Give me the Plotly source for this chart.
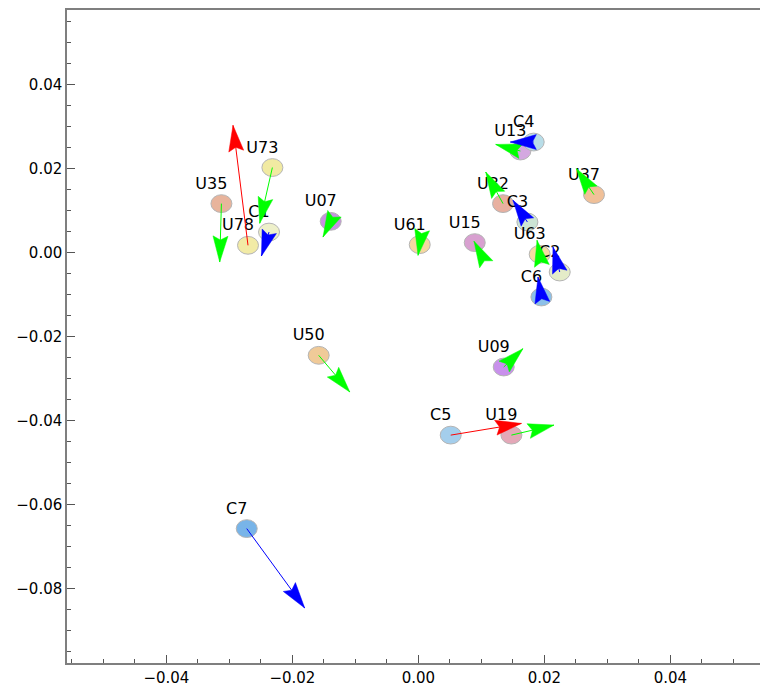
import plotly.graph_objects as go
import numpy as np

# ---------------- data ----------------
labels = ["U73", "U35", "U78", "C1", "U07", "U61", "U15", "U13", "C4", "U32",
          "C3", "U63", "C2", "C6", "U37", "U50", "C7", "U09", "C5", "U19"]
x_start = [-0.02318, -0.03127, -0.02705, -0.02371, -0.01392, 0.00021, 0.00894, 0.01619, 0.01830, 0.01343,
           0.01730, 0.01925, 0.02243, 0.01952, 0.02787, -0.01583, -0.02725, 0.01354, 0.00513, 0.01476]
y_start = [0.02026, 0.01167, 0.00174, 0.00490, 0.00745, 0.00190, 0.00238, 0.02419, 0.02633, 0.01167,
           0.00729, -0.00040, -0.00462, -0.01057, 0.01381, -0.02445, -0.06571, -0.02724, -0.04345, -0.04345]
x_end = [-0.02519, -0.03154, -0.02943, -0.02492, -0.01514, -0.00006, 0.00883, 0.01227, 0.01459, 0.01068,
         0.01502, 0.01883, 0.02136, 0.01898, 0.02508, -0.01089, -0.01805, 0.01660, 0.01635, 0.02152]
y_end = [0.00698, -0.00224, 0.03031, -0.00081, 0.00371, -0.00064, 0.00269, 0.02576, 0.02633, 0.01919,
         0.01245, 0.00293, 0.00133, -0.00581, 0.02000, -0.03319, -0.08462, -0.02286, -0.04067, -0.04107]

x_ticks = [-0.04, -0.02, 0.00, 0.02, 0.04]
y_ticks = [-0.08, -0.06, -0.04, -0.02, 0.00, 0.02, 0.04]

# ---------------- style ----------------
point_color = {
    "U73": "#F1EAA2", "U35": "#E8B49C", "U78": "#F2EBA6", "C1": "#EEF0CA",
    "U07": "#C890E0", "U61": "#F5D8A0", "U15": "#D8A0D0", "U13": "#D4A8E0",
    "C4": "#B8DDE8", "U32": "#E8B0A0", "C3": "#CCE4D4", "U63": "#F5DCA0",
    "C2": "#E4ECC8", "C6": "#8CC0E8", "U37": "#F0C098", "U50": "#F0CA98",
    "C7": "#78B4E8", "U09": "#C890EB", "C5": "#A4CEEC", "U19": "#E4A8B8",
}
arrow_color = {lab: ("#0000FF" if lab.startswith("C") else "#00FF00") for lab in labels}
arrow_color["U78"] = "#FF0000"
arrow_color["C5"] = "#FF0000"

FONT = "DejaVu Sans, Arial, sans-serif"
W, H = 760, 691
ML, MR, MT, MB = 67, 0, 10, 28
xr = [-0.05578, 0.05422]
yr = [-0.09771, 0.05777]
pxx = (W - ML - MR) / (xr[1] - xr[0])   # pixels per data unit (x)
pxy = (H - MT - MB) / (yr[1] - yr[0])   # pixels per data unit (y)

HEAD_L, HEAD_HW, NOTCH = 26.0, 7.5, 0.85
LABEL_DX, LABEL_DY = -10.0, 19.0
RX, RY = 10.5, 8.9

fig = go.Figure()

# discs (slightly elliptical, as in the reference)
shapes = []
for lab, x0, y0 in zip(labels, x_start, y_start):
    shapes.append(dict(type="circle", xref="x", yref="y", xsizemode="pixel", ysizemode="pixel",
                       xanchor=x0, yanchor=y0, x0=-RX, x1=RX, y0=-RY, y1=RY,
                       fillcolor=point_color[lab], line=dict(color="#B4B4B4", width=1),
                       layer="below"))

# labels
fig.add_trace(go.Scatter(
    x=[x + LABEL_DX / pxx for x in x_start],
    y=[y + LABEL_DY / pxy for y in y_start],
    mode="text", text=labels, textposition="middle center",
    textfont=dict(family=FONT, size=16, color="black"),
    hoverinfo="skip", showlegend=False))

# arrows
for lab, x0, y0, x1, y1 in zip(labels, x_start, y_start, x_end, y_end):
    c = arrow_color[lab]
    fig.add_trace(go.Scatter(x=[x0, x1], y=[y0, y1], mode="lines",
                             line=dict(color=c, width=1), hoverinfo="skip", showlegend=False))
    dxp = (x1 - x0) * pxx
    dyp = (y1 - y0) * pxy
    n = np.hypot(dxp, dyp)
    ux, uy = dxp / n, dyp / n
    vx, vy = -uy, ux
    pts = [(0, 0), (-HEAD_L * ux + HEAD_HW * vx, -HEAD_L * uy + HEAD_HW * vy),
           (-NOTCH * HEAD_L * ux, -NOTCH * HEAD_L * uy),
           (-HEAD_L * ux - HEAD_HW * vx, -HEAD_L * uy - HEAD_HW * vy), (0, 0)]
    hx = [x1 + p[0] / pxx for p in pts]
    hy = [y1 + p[1] / pxy for p in pts]
    fig.add_trace(go.Scatter(x=hx, y=hy, mode="lines", fill="toself", fillcolor=c,
                             line=dict(color=c, width=0.5), hoverinfo="skip", showlegend=False))

axis_common = dict(
    showgrid=False, zeroline=False, showline=True, linecolor="#7F7F7F", linewidth=1.5,
    ticks="inside", ticklen=8, tickwidth=1, tickcolor="#555555",
    tickfont=dict(family=FONT, size=15, color="black"),
    tickformat=".2f",
    minor=dict(ticks="inside", ticklen=4, tickwidth=1, tickcolor="#555555", dtick=0.005, tick0=0),
)

fig.update_layout(
    width=W, height=H, margin=dict(l=ML, r=MR, t=MT, b=MB, autoexpand=False),
    plot_bgcolor="white", paper_bgcolor="white",
    shapes=shapes,
    xaxis=dict(range=xr, tickvals=x_ticks, mirror=True, **axis_common),
    yaxis=dict(range=yr, tickvals=y_ticks, mirror=False, **axis_common),
)

fig.write_html("out.html", config={"displayModeBar": False},
               post_script="document.body.style.margin='0';document.body.style.overflow='hidden';")
